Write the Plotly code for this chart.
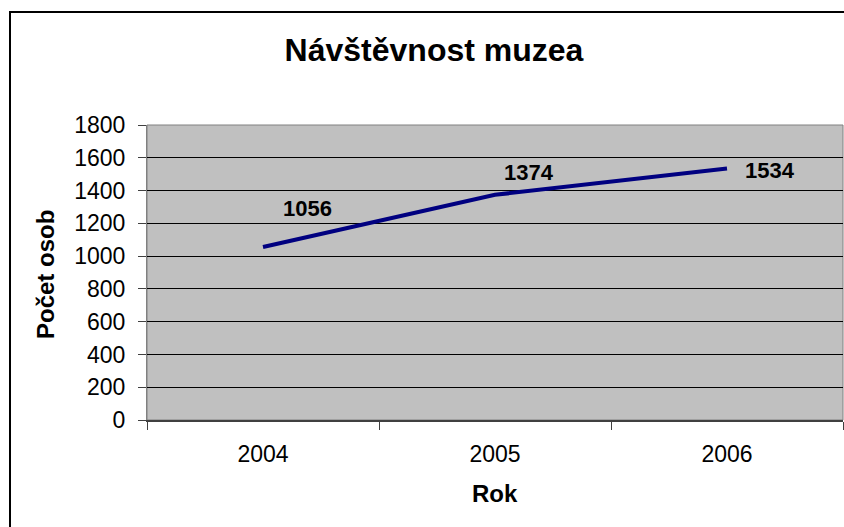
import plotly.graph_objects as go

years = ["2004", "2005", "2006"]
visitors = [1056, 1374, 1534]
label_texts = [str(v) for v in visitors]
y_ticks = [0, 200, 400, 600, 800, 1000, 1200, 1400, 1600, 1800]

FONT = "Liberation Sans, Arial, sans-serif"

W, H = 844, 527
PL, PR, PT, PB = 147, 843, 125, 420  # plot-area in page pixels
PW, PH = PR - PL, PB - PT

fig = go.Figure()
fig.add_trace(go.Scatter(
    x=years, y=visitors, mode="lines",
    line=dict(color="#000080", width=4),
    hoverinfo="skip", showlegend=False,
))

# data labels (manually offset like the original)
label_shifts = [(44, 38), (34, 22), (43, -2)]
for i, (y, t, (dx, dy)) in enumerate(zip(visitors, label_texts, label_shifts)):
    fig.add_annotation(x=i, y=y, text=f"<b>{t}</b>", showarrow=False,
                       xshift=dx, yshift=dy, xanchor="center", yanchor="middle",
                       font=dict(family=FONT, size=22, color="black"))

# axis titles as annotations
fig.add_annotation(xref="paper", yref="paper", x=(45 - PL) / PW, y=(PB - 275) / PH,
                   text="<b>Počet osob</b>", textangle=-90, showarrow=False,
                   xanchor="center", yanchor="middle",
                   font=dict(family=FONT, size=24, color="black"))
fig.add_annotation(xref="paper", yref="paper", x=(495 - PL) / PW, y=-(493 - PB) / PH,
                   text="<b>Rok</b>", showarrow=False,
                   xanchor="center", yanchor="middle",
                   font=dict(family=FONT, size=24, color="black"))

# plot-area border (gray)
fig.add_shape(type="rect", xref="paper", yref="paper", x0=0, y0=0, x1=1, y1=1,
              line=dict(color="#808080", width=1), layer="below")
# outer chart frame
fig.add_shape(type="rect", xref="paper", yref="paper",
              x0=(10 - PL) / PW, y0=-0.6, x1=1.2, y1=(PB - 12) / PH,
              line=dict(color="black", width=2))

fig.update_layout(
    width=W, height=H,
    margin=dict(l=PL, r=W - PR, t=PT, b=H - PB),
    paper_bgcolor="white", plot_bgcolor="#C0C0C0",
    title=dict(text="<b>Návštěvnost muzea</b>", x=434 / W, xref="container",
               xanchor="center", y=1 - 50 / H, yref="container", yanchor="middle",
               font=dict(family=FONT, size=32, color="black")),
    xaxis=dict(type="category", range=[-0.5, 2.5], tickson="boundaries",
               ticks="outside", ticklen=8, tickcolor="#404040", tickwidth=1,
               showline=True, linecolor="#404040", linewidth=2,
               showgrid=False, ticklabelstandoff=12,
               tickfont=dict(family=FONT, size=23, color="black")),
    yaxis=dict(range=[0, 1800], tickvals=y_ticks, ticks="outside", ticklen=8,
               tickcolor="#404040", showline=True, linecolor="#808080", linewidth=1,
               showgrid=True, gridcolor="black", gridwidth=1, zeroline=False,
               ticklabelstandoff=8,
               tickfont=dict(family=FONT, size=23, color="black")),
)

fig.write_html(
    "out.html",
    config={"displayModeBar": False},
    post_script="document.body.style.margin='0';document.body.style.overflow='hidden';",
)
